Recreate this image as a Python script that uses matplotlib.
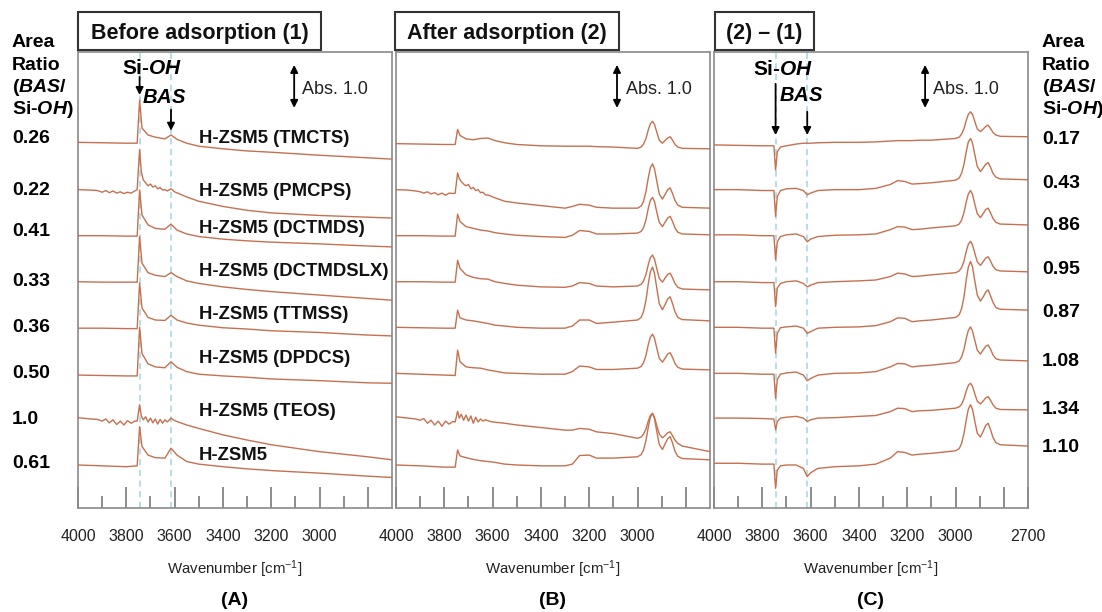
import matplotlib
matplotlib.use("Agg")
import matplotlib.pyplot as plt
from matplotlib.patches import Rectangle

plt.rcParams['font.family'] = ['Liberation Sans', 'DejaVu Sans']
plt.rcParams['mathtext.fontset'] = 'custom'
plt.rcParams['mathtext.rm'] = 'Liberation Sans'
plt.rcParams['mathtext.it'] = 'Liberation Sans:italic'
plt.rcParams['mathtext.bf'] = 'Liberation Sans:bold'
plt.rcParams['mathtext.bfit'] = 'Liberation Sans:italic:bold'

# ---------------- data (absorbance relative to each trace's value at 4000 cm-1) ----------------
# (A) before adsorption
wn_a = [4000, 3900, 3800, 3755, 3745, 3735, 3710, 3680, 3640, 3615, 3590, 3550, 3500,
        3400, 3300, 3200, 3000, 2800, 2700]
wn_a_noisy = [4000, 3950, 3920, 3900, 3885, 3870, 3855, 3840, 3825, 3810, 3795, 3780, 3765,
              3755, 3745, 3738, 3730, 3720, 3710, 3700, 3690, 3680, 3670, 3660, 3650, 3640,
              3630, 3615, 3600, 3550, 3500, 3400, 3300, 3200, 3000, 2800, 2700]
a_tmcts = [0, -0.01, -0.02, -0.02, 0.98, 0.33, 0.17, 0.12, 0.08, 0.17, 0.07, -0.02, -0.09,
           -0.15, -0.20, -0.23, -0.30, -0.36, -0.39]
a_pmcps = [0, -0.01, -0.02, -0.06, -0.02, -0.07, -0.03, -0.08, -0.05, -0.09, -0.06, -0.08, -0.03,
           0, 0.93, 0.42, 0.23, 0.16, 0.09, 0.13, 0.06, 0.09, 0.02, 0.05, -0.01, 0,
           -0.03, 0.02, -0.05, -0.17, -0.27, -0.39, -0.48, -0.54, -0.60, -0.64, -0.66]
a_dctmds = [0, 0, -0.01, -0.01, 1.06, 0.48, 0.25, 0.17, 0.15, 0.27, 0.13, 0.04, -0.02,
            -0.08, -0.12, -0.15, -0.19, -0.24, -0.26]
a_dctmdslx = [0, -0.01, -0.01, -0.01, 1.05, 0.43, 0.21, 0.15, 0.12, 0.21, 0.12, 0.02, -0.04,
              -0.12, -0.18, -0.23, -0.31, -0.39, -0.43]
a_ttmss = [0, 0, -0.01, -0.01, 1.05, 0.47, 0.25, 0.19, 0.18, 0.30, 0.19, 0.12, 0.07,
           0.01, -0.02, -0.06, -0.10, -0.16, -0.18]
a_dpdcs = [0, -0.01, -0.02, -0.02, 1.11, 0.50, 0.26, 0.19, 0.17, 0.31, 0.18, 0.08, 0.02,
           -0.02, -0.05, -0.09, -0.13, -0.18, -0.19]
a_teos = [0, -0.03, -0.04, -0.08, -0.03, -0.12, -0.05, -0.16, -0.08, -0.17, -0.07, -0.13, -0.08,
          -0.08, 0.30, 0.04, -0.05, 0.02, -0.10, -0.01, -0.12, -0.03, -0.15, -0.04, -0.13, -0.05,
          -0.10, -0.01, -0.07, -0.17, -0.25, -0.40, -0.52, -0.63, -0.79, -0.91, -0.98]
a_hzsm5 = [0, -0.02, -0.04, -0.02, 0.89, 0.43, 0.23, 0.17, 0.16, 0.39, 0.23, 0.08, 0.02,
           -0.04, -0.09, -0.13, -0.19, -0.26, -0.29]
a_offsets = [8.50, 7.40, 6.33, 5.26, 4.18, 3.09, 2.10, 1.00]

# (B) after adsorption
wn_b = [4000, 3900, 3800, 3755, 3745, 3735, 3710, 3680, 3650, 3620, 3590, 3550, 3500, 3400,
        3300, 3270, 3240, 3200, 3170, 3100,
        3000, 2985, 2975, 2965, 2955, 2947, 2938, 2930, 2920, 2910, 2897, 2885, 2875, 2865,
        2855, 2845, 2833, 2815, 2700]
wn_b_noisy = [4000, 3950, 3920, 3900, 3885, 3870, 3855, 3840, 3825, 3810, 3795, 3780, 3765,
              3755, 3745, 3738, 3730, 3720, 3710, 3700, 3690, 3680, 3670, 3660, 3650, 3640,
              3630, 3615, 3600, 3550, 3500, 3400, 3300, 3270, 3240, 3200, 3170, 3100,
              3000, 2985, 2975, 2965, 2955, 2947, 2938, 2930, 2920, 2910, 2897, 2885, 2875,
              2865, 2855, 2845, 2833, 2815, 2700]
b_tmcts = [0, -0.01, -0.02, -0.02, 0.33, 0.19, 0.11, 0.09, 0.12, 0.13, 0.07, 0.02, -0.02, -0.05,
           -0.06, -0.06, -0.06, -0.06, -0.07, -0.08,
           -0.11, -0.08, -0.01, 0.12, 0.33, 0.46, 0.52, 0.45, 0.26, 0.08, 0.01, 0.08, 0.13, 0.16,
           0.08, -0.02, -0.08, -0.11, -0.12]
b_pmcps = [0, -0.01, -0.03, -0.05, -0.08, -0.05, -0.10, -0.07, -0.12, -0.08, -0.13, -0.08, -0.09,
           -0.08, 0.39, 0.26, 0.19, 0.13, 0.09, 0.12, 0.02, 0.05, -0.02, 0, -0.07, -0.06,
           -0.12, -0.13, -0.17, -0.27, -0.31, -0.37, -0.43, -0.39, -0.34, -0.36, -0.41, -0.43,
           -0.43, -0.38, -0.27, -0.04, 0.29, 0.51, 0.60, 0.49, 0.19, -0.10, -0.22, -0.10, 0,
           0.04, -0.09, -0.25, -0.36, -0.41, -0.43]
b_dctmds = [0, 0, -0.01, -0.01, 0.50, 0.33, 0.21, 0.17, 0.13, 0.11, 0.07, 0.04, 0.01, -0.02,
            -0.04, 0.01, 0.12, 0.10, 0.04, 0.04,
            0.06, 0.10, 0.19, 0.37, 0.65, 0.82, 0.89, 0.80, 0.54, 0.31, 0.21, 0.32, 0.41, 0.45,
            0.33, 0.18, 0.08, 0.04, 0.02]
b_dctmdslx = [0, 0, -0.01, -0.01, 0.50, 0.31, 0.16, 0.10, 0.07, 0.06, 0, -0.04, -0.08, -0.12,
              -0.13, -0.10, -0.02, -0.04, -0.10, -0.12,
              -0.10, -0.06, 0.02, 0.17, 0.41, 0.56, 0.62, 0.53, 0.30, 0.08, -0.01, 0.09, 0.17,
              0.20, 0.09, -0.04, -0.13, -0.17, -0.19]
b_ttmss = [0, -0.01, -0.02, -0.02, 0.40, 0.22, 0.17, 0.15, 0.12, 0.09, 0.05, 0.03, 0, -0.02,
           -0.02, 0.03, 0.17, 0.17, 0.09, 0.12,
           0.17, 0.23, 0.37, 0.63, 1.03, 1.29, 1.40, 1.26, 0.90, 0.55, 0.41, 0.54, 0.66, 0.71,
           0.55, 0.36, 0.23, 0.18, 0.15]
b_dpdcs = [0, -0.02, -0.04, -0.05, 0.54, 0.27, 0.15, 0.13, 0.12, 0.08, 0.05, 0.01, 0, -0.02,
           -0.02, 0.04, 0.17, 0.15, 0.09, 0.09,
           0.12, 0.16, 0.25, 0.42, 0.68, 0.84, 0.91, 0.82, 0.58, 0.35, 0.26, 0.36, 0.45, 0.48,
           0.37, 0.23, 0.14, 0.10, 0.08]
b_teos = [0, -0.03, -0.05, -0.08, -0.04, -0.15, -0.08, -0.19, -0.10, -0.22, -0.10, -0.17, -0.11,
          -0.12, 0.13, -0.03, 0.06, -0.08, 0.04, -0.10, 0.02, -0.15, -0.01, -0.12, -0.05, -0.10,
          -0.07, -0.10, -0.12, -0.15, -0.19, -0.25, -0.31, -0.31, -0.27, -0.29, -0.35, -0.39,
          -0.50, -0.47, -0.40, -0.28, -0.09, 0.03, 0.08, -0.01, -0.21, -0.40, -0.49, -0.43,
          -0.37, -0.35, -0.44, -0.54, -0.62, -0.68, -0.81]
b_hzsm5 = [0, -0.02, -0.05, -0.05, 0.35, 0.21, 0.17, 0.13, 0.10, 0.08, 0.06, 0.02, 0, -0.02,
           -0.02, 0.02, 0.22, 0.23, 0.16, 0.16,
           0.19, 0.24, 0.35, 0.57, 0.90, 1.11, 1.20, 1.08, 0.77, 0.48, 0.36, 0.50, 0.61, 0.66,
           0.51, 0.32, 0.20, 0.15, 0.12]
b_offsets = [8.47, 7.40, 6.33, 5.26, 4.20, 3.13, 2.12, 1.00]

# (C) difference (2) - (1)
wn_c = [4000, 3900, 3800, 3760, 3752, 3745, 3738, 3725, 3700, 3660, 3630, 3614, 3600, 3570,
        3500, 3400, 3330, 3270, 3240, 3210, 3180, 3150, 3100,
        3000, 2985, 2975, 2965, 2955, 2947, 2938, 2930, 2920, 2910, 2897, 2885, 2875, 2865,
        2855, 2845, 2833, 2815, 2700]
c_tmcts = [0, -0.01, -0.02, -0.02, -0.02, -0.58, -0.16, -0.05, -0.02, 0.02, 0.04, 0.04, 0.04,
           0.05, 0.06, 0.06, 0.07, 0.09, 0.10, 0.10, 0.10, 0.11, 0.11,
           0.15, 0.18, 0.25, 0.38, 0.58, 0.71, 0.77, 0.71, 0.54, 0.37, 0.31, 0.37, 0.43, 0.46,
           0.38, 0.29, 0.23, 0.20, 0.19]
c_pmcps = [0, 0, -0.02, -0.02, -0.02, -0.62, -0.16, -0.02, 0.02, 0.03, -0.02, -0.12, -0.08,
           -0.02, 0, 0, 0.03, 0.12, 0.21, 0.19, 0.13, 0.14, 0.16,
           0.22, 0.27, 0.38, 0.59, 0.90, 1.11, 1.19, 1.09, 0.81, 0.54, 0.42, 0.51, 0.59, 0.63,
           0.52, 0.38, 0.29, 0.25, 0.23]
c_dctmds = [0, 0, -0.02, -0.02, -0.02, -0.58, -0.16, -0.04, 0, 0.02, -0.04, -0.16, -0.10,
            -0.04, -0.01, 0, 0.02, 0.12, 0.19, 0.18, 0.12, 0.13, 0.16,
            0.21, 0.25, 0.34, 0.52, 0.78, 0.95, 1.03, 0.94, 0.71, 0.49, 0.40, 0.50, 0.59, 0.62,
            0.51, 0.38, 0.29, 0.25, 0.23]
c_dctmdslx = [0, 0, -0.02, -0.02, -0.02, -0.58, -0.15, -0.04, 0, 0.02, -0.04, -0.12, -0.08,
              -0.02, 0, 0.02, 0.04, 0.12, 0.20, 0.18, 0.12, 0.13, 0.16,
              0.21, 0.25, 0.33, 0.48, 0.72, 0.87, 0.94, 0.86, 0.66, 0.46, 0.38, 0.47, 0.55,
              0.58, 0.48, 0.36, 0.28, 0.25, 0.23]
c_ttmss = [0, 0, -0.02, -0.02, -0.02, -0.60, -0.14, -0.01, 0.01, 0.03, -0.02, -0.14, -0.10,
           -0.02, 0, 0.01, 0.04, 0.13, 0.22, 0.21, 0.13, 0.15, 0.17,
           0.23, 0.29, 0.43, 0.71, 1.13, 1.40, 1.53, 1.41, 1.07, 0.75, 0.61, 0.71, 0.82, 0.87,
           0.73, 0.58, 0.46, 0.42, 0.40]
c_dpdcs = [0, 0, -0.02, -0.02, -0.02, -0.58, -0.14, -0.02, 0.01, 0.03, -0.04, -0.17, -0.12,
           -0.04, 0, 0.01, 0.04, 0.15, 0.23, 0.22, 0.15, 0.17, 0.19,
           0.25, 0.29, 0.38, 0.56, 0.83, 1.00, 1.08, 0.99, 0.76, 0.54, 0.45, 0.55, 0.63, 0.66,
           0.56, 0.43, 0.34, 0.31, 0.29]
c_teos = [0, 0, -0.01, -0.02, -0.02, -0.27, -0.08, 0, 0.02, 0.04, 0, -0.08, -0.04,
          0, 0.01, 0.04, 0.06, 0.15, 0.23, 0.22, 0.15, 0.17, 0.18,
          0.23, 0.26, 0.32, 0.45, 0.64, 0.76, 0.81, 0.74, 0.56, 0.39, 0.33, 0.40, 0.47, 0.50,
          0.41, 0.31, 0.23, 0.20, 0.19]
c_hzsm5 = [0, 0, -0.02, -0.02, -0.02, -0.58, -0.16, -0.06, -0.04, -0.04, -0.12, -0.31, -0.22,
           -0.12, -0.08, -0.06, -0.02, 0.12, 0.27, 0.25, 0.19, 0.21, 0.23,
           0.29, 0.34, 0.46, 0.69, 1.03, 1.26, 1.36, 1.26, 0.97, 0.70, 0.61, 0.75, 0.88, 0.93,
           0.78, 0.60, 0.48, 0.43, 0.40]
c_offsets = [8.44, 7.40, 6.35, 5.26, 4.20, 3.13, 2.09, 1.04]

sample_names = ['H-ZSM5 (TMCTS)', 'H-ZSM5 (PMCPS)', 'H-ZSM5 (DCTMDS)', 'H-ZSM5 (DCTMDSLX)',
                'H-ZSM5 (TTMSS)', 'H-ZSM5 (DPDCS)', 'H-ZSM5 (TEOS)', 'H-ZSM5']
ratio_before = ['0.26', '0.22', '0.41', '0.33', '0.36', '0.50', '1.0', '0.61']
ratio_diff = ['0.17', '0.43', '0.86', '0.95', '0.87', '1.08', '1.34', '1.10']
peak_sioh = 3745
peak_bas_a = 3615
peak_bas_c = 3614
abs_bar = 1.0

panel_a = [(wn_a, a_tmcts), (wn_a_noisy, a_pmcps), (wn_a, a_dctmds), (wn_a, a_dctmdslx),
           (wn_a, a_ttmss), (wn_a, a_dpdcs), (wn_a_noisy, a_teos), (wn_a, a_hzsm5)]
panel_b = [(wn_b, b_tmcts), (wn_b_noisy, b_pmcps), (wn_b, b_dctmds), (wn_b, b_dctmdslx),
           (wn_b, b_ttmss), (wn_b, b_dpdcs), (wn_b_noisy, b_teos), (wn_b, b_hzsm5)]
panel_c = [(wn_c, c_tmcts), (wn_c, c_pmcps), (wn_c, c_dctmds), (wn_c, c_dctmdslx),
           (wn_c, c_ttmss), (wn_c, c_dpdcs), (wn_c, c_teos), (wn_c, c_hzsm5)]

# ---------------- layout ----------------
W, H = 1102, 612
fig = plt.figure(figsize=(W / 100, H / 100), dpi=100)


def fx(px):
    return px / W


def fy(py):
    return 1 - py / H


line_color = '#c5714f'
dash_color = '#a3d5e3'
frame_color = '#8a8a8a'

panel_left = [78, 396, 714]
panels = [panel_a, panel_b, panel_c]
offsets = [a_offsets, b_offsets, c_offsets]
axes = []
for i, x0 in enumerate(panel_left):
    ax = fig.add_axes([fx(x0), fy(508), 314 / W, 456 / H])
    ax.set_xlim(4000, 2700)
    ax.set_ylim(0, 10.6)
    for (wn, vals), off in zip(panels[i], offsets[i]):
        ax.plot(wn, [v + off for v in vals], color=line_color, lw=1.0, zorder=3,
                solid_joinstyle='round')
    major = [4000, 3800, 3600, 3400, 3200, 3000, 2800]
    labels = ['4000', '3800', '3600', '3400', '3200', '3000', '']
    if i == 2:
        major = major + [2700]
        labels = labels + ['2700']
    ax.set_xticks(major, labels)
    ax.set_xticks([3900, 3700, 3500, 3300, 3100, 2900], minor=True)
    ax.tick_params(axis='x', which='major', direction='in', length=15, width=1.1,
                   color='#6e6e6e', pad=15, labelsize=11.5, labelcolor='#222222')
    ax.tick_params(axis='x', which='minor', direction='in', length=8.5, width=1.1,
                   color='#6e6e6e')
    ax.set_yticks([])
    for s in ax.spines.values():
        s.set_color(frame_color)
        s.set_linewidth(1.2)
    axes.append(ax)

ax_a, ax_b, ax_c = axes

# dashed guide lines
for ax, bas in [(ax_a, peak_bas_a), (ax_c, peak_bas_c)]:
    for x in (peak_sioh, bas):
        ax.axvline(x, color=dash_color, lw=1.1, ls=(0, (4, 3)), zorder=1)

arrow_kw = dict(arrowstyle='-|>', color='black', lw=1.3, mutation_scale=11,
                shrinkA=0, shrinkB=0)
dbl_kw = dict(arrowstyle='<|-|>', color='black', lw=1.3, mutation_scale=11,
              shrinkA=0, shrinkB=0)

# Abs. 1.0 scale bars
for ax, xa, xt in [(ax_a, 3105, 3073), (ax_b, 3085, 3048), (ax_c, 3126, 3093)]:
    ax.annotate('', xy=(xa, 9.3), xytext=(xa, 9.3 + abs_bar), arrowprops=dbl_kw)
    ax.text(xt, 9.62, 'Abs. 1.0', fontsize=13, va='baseline', ha='left', color='#222222')

# peak markers panel A
ax_a.text(3694, 10.09, r'Si-$\mathbfit{OH}$', fontsize=15, fontweight='bold',
          ha='center', va='baseline')
ax_a.annotate('', xy=(peak_sioh, 9.60), xytext=(peak_sioh, 10.02), arrowprops=arrow_kw)
ax_a.text(3644, 9.41, r'$\mathbfit{BAS}$', fontsize=14.5, ha='center', va='baseline')
ax_a.annotate('', xy=(peak_bas_a, 8.77), xytext=(peak_bas_a, 9.26), arrowprops=arrow_kw)

# peak markers panel C
ax_c.text(3712, 10.07, r'Si-$\mathbfit{OH}$', fontsize=15, fontweight='bold',
          ha='center', va='baseline')
ax_c.annotate('', xy=(peak_sioh, 8.67), xytext=(peak_sioh, 9.86), arrowprops=arrow_kw)
ax_c.text(3638, 9.45, r'$\mathbfit{BAS}$', fontsize=14.5, ha='center', va='baseline')
ax_c.annotate('', xy=(peak_bas_c, 8.67), xytext=(peak_bas_c, 9.21), arrowprops=arrow_kw)

# sample labels in panel A
label_y = [143, 196.3, 233, 276.3, 319, 363, 415.6, 459.6]
for name, py in zip(sample_names, label_y):
    fig.text(fx(199), fy(py), name, fontsize=13.3, fontweight='bold', va='baseline',
             ha='left', color='#111111')

# title boxes
titles = [('Before adsorption (1)', 78, 321), ('After adsorption (2)', 395, 619),
          ('(2) \u2013 (1)', 715, 814)]
for text, x0, x1 in titles:
    fig.patches.append(Rectangle((fx(x0), fy(50)), (x1 - x0) / W, 38 / H,
                                 transform=fig.transFigure, fill=False,
                                 ec='#333333', lw=1.5))
    fig.text(fx((x0 + x1) / 2), fy(38.5), text, fontsize=15.5, fontweight='bold',
             ha='center', va='baseline', color='#111111')

# area ratio columns
head = ['Area', 'Ratio', r'($\mathbfit{BAS}$/', r'Si-$\mathbfit{OH}$)']
head_y = [47.3, 69.5, 92, 114.5]
for txt, py in zip(head, head_y):
    fig.text(fx(12), fy(py), txt, fontsize=14, fontweight='bold', va='baseline', ha='left')
    fig.text(fx(1042), fy(py), txt, fontsize=14, fontweight='bold', va='baseline', ha='left')

ratio_before_y = [143.3, 195, 236, 286, 332, 378, 424, 468]
for txt, py in zip(ratio_before, ratio_before_y):
    fig.text(fx(12), fy(py), txt, fontsize=14, fontweight='bold', va='baseline', ha='left')
ratio_diff_y = [143.5, 188.5, 229.5, 273.5, 316.5, 365.5, 414.5, 451.5]
for txt, py in zip(ratio_diff, ratio_diff_y):
    fig.text(fx(1042), fy(py), txt, fontsize=14, fontweight='bold', va='baseline', ha='left')

# axis titles and panel letters
for x0, letter in zip(panel_left, ['(A)', '(B)', '(C)']):
    cx = x0 + 157
    fig.text(fx(cx), fy(574), r'Wavenumber [cm$^{\mathregular{-1}}$]', fontsize=10.8,
             ha='center', va='baseline', color='#222222')
    fig.text(fx(cx), fy(605), letter, fontsize=14, fontweight='bold',
             ha='center', va='baseline')

fig.savefig('out.png', dpi=100)
